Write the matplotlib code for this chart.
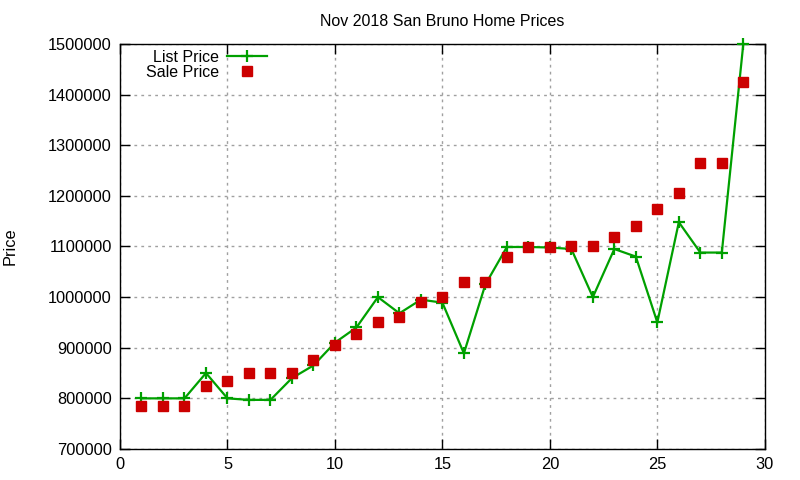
import matplotlib
matplotlib.use("Agg")
import matplotlib.pyplot as plt

plt.rcParams['font.family'] = ['Liberation Sans', 'DejaVu Sans']

homes = list(range(1, 30))
list_price = [800000, 800000, 800000, 850000, 800000, 797000, 797000, 840000, 865000, 910000,
              940000, 1000000, 968000, 995000, 989000, 889000, 1025000, 1099000, 1099000, 1098000,
              1095000, 1000000, 1095000, 1080000, 950000, 1148000, 1088000, 1088000, 1500000]
sale_price = [785000, 785000, 785000, 825000, 835000, 850000, 850000, 850000, 875000, 906000,
              928000, 950000, 960000, 990000, 1000000, 1030000, 1030000, 1080000, 1098000, 1098000,
              1100000, 1100000, 1118000, 1140000, 1175000, 1205000, 1265000, 1265000, 1425000]

fig = plt.figure(figsize=(8, 4.8), dpi=100)
ax = fig.add_axes([0.15, 0.0646, 0.806, 0.8438])

ax.plot(homes, list_price, color='#00a000', lw=1.6, marker='+', ms=9, mew=1.6,
        label='List Price', clip_on=False, zorder=3)
ax.plot(homes, sale_price, color='#cc0000', ls='none', marker='s', ms=6.5,
        label='Sale Price', clip_on=False, zorder=4)

ax.set_xlim(0, 30)
ax.set_ylim(700000, 1500000)
ax.set_xticks(range(0, 31, 5))
ax.set_yticks(range(700000, 1500001, 100000))
ax.ticklabel_format(style='plain', axis='y', useOffset=False)
ax.tick_params(direction='in', length=7, width=1, top=True, right=True, labelsize=11.8, pad=6)
ax.grid(True, color='#a0a0a0', ls=(0, (2, 3)), lw=1)
for s in ax.spines.values():
    s.set_linewidth(1)

ax.set_title('Nov 2018 San Bruno Home Prices', fontsize=11.5, pad=13)
ax.set_ylabel('Price', fontsize=11.8, labelpad=22)

ax.legend(loc='upper left', bbox_to_anchor=(0.035, 0.993), frameon=False, markerfirst=False,
          fontsize=11.5, handlelength=2.5, borderaxespad=0, borderpad=0.2,
          labelspacing=0.0, handletextpad=0.5)

fig.savefig('out.png', dpi=100)
